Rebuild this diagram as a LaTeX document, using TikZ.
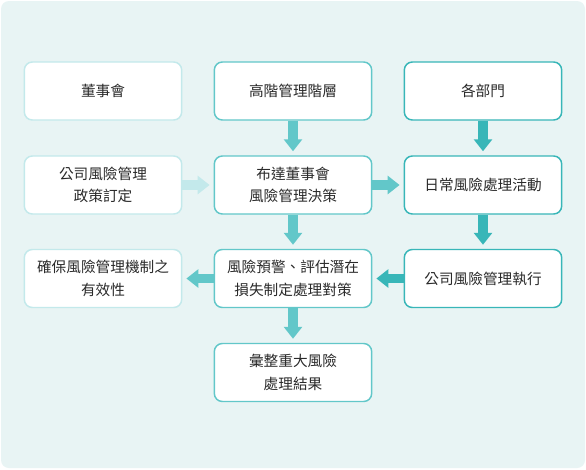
\documentclass[tikz,border=0pt]{standalone}
\usepackage{fontspec}
\setmainfont{Noto Sans CJK TC}
\usetikzlibrary{arrows.meta}
\definecolor{bgc}{HTML}{E8F4F4}
\definecolor{lightc}{HTML}{C3E9EB}
\definecolor{medc}{HTML}{62C7C9}
\definecolor{darkc}{HTML}{38B6B8}
\definecolor{txtc}{HTML}{2A2A2A}
\tikzset{
  box/.style={draw, fill=white, rounded corners=6pt, line width=1.1pt,
    minimum width=118pt, minimum height=43.5pt, align=center,
    text=txtc, font=\fontsize{11pt}{17pt}\selectfont, inner sep=0pt},
  boxl/.style={box, draw=lightc},
  boxm/.style={box, draw=medc},
  boxd/.style={box, draw=darkc},
  flow/.style={line width=7.2pt, -{Triangle[length=9pt,width=13.5pt]}},
}
\begin{document}
\begin{tikzpicture}[x=0.75pt,y=-0.75pt]
\useasboundingbox (0,0) rectangle (586,469);
\fill[white] (0,0) rectangle (586,469);
\fill[bgc, rounded corners=6pt] (1,1) rectangle (585,468);
% column 1
\node[boxl] (board) at (103,91) {董事會};
\node[boxl] (policy) at (103,185) {公司風險管理\\政策訂定};
\node[boxl] (ensure) at (103,278.5) {確保風險管理機制之\\有效性};
% column 2
\node[boxm] (senior) at (293,91) {高階管理階層};
\node[boxm] (decide) at (293,185) {布達董事會\\風險管理決策};
\node[boxm] (warn) at (293,278.5) {風險預警、評估潛在\\損失制定處理對策};
\node[boxm] (summ) at (293,372.5) {彙整重大風險\\處理結果};
% column 3
\node[boxd] (dept) at (483,91) {各部門};
\node[boxd] (daily) at (483,185) {日常風險處理活動};
\node[boxd] (exec) at (483,278.5) {公司風險管理執行};
% arrows
\draw[flow, lightc] (policy.east) -- ([xshift=-3pt]decide.west);
\draw[flow, medc] (senior.south) -- ([yshift=3pt]decide.north);
\draw[flow, medc] (decide.east) -- ([xshift=-3pt]daily.west);
\draw[flow, medc] (decide.south) -- ([yshift=3pt]warn.north);
\draw[flow, darkc] (dept.south) -- ([yshift=3pt]daily.north);
\draw[flow, darkc] (daily.south) -- ([yshift=3pt]exec.north);
\draw[flow, darkc] (exec.west) -- ([xshift=3pt]warn.east);
\draw[flow, medc] (warn.west) -- ([xshift=3pt]ensure.east);
\draw[flow, medc] (warn.south) -- ([yshift=3pt]summ.north);
\end{tikzpicture}
\end{document}
